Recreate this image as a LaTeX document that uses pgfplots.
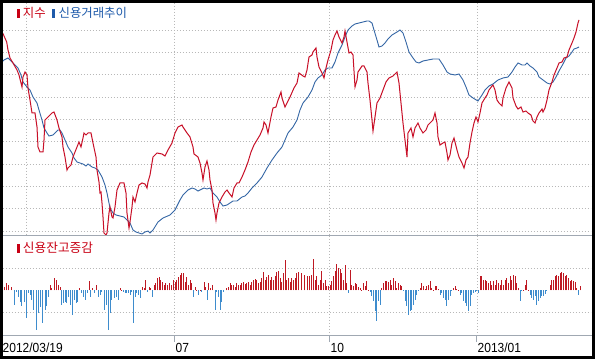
\documentclass[border=0pt]{standalone}
\usepackage{pgfplots}
\usepackage{pgfplotstable}
\pgfplotsset{compat=1.18}
\usepackage{fontspec}
\setmainfont{Liberation Sans}
\newfontfamily\kr{Noto Sans CJK KR}
\definecolor{linered}{RGB}{200,16,40}
\definecolor{lineblue}{RGB}{52,102,165}
\definecolor{barred}{RGB}{190,25,35}
\definecolor{barblue}{RGB}{62,140,205}
\definecolor{txtred}{RGB}{200,0,20}
\definecolor{txtblue}{RGB}{30,90,170}
\definecolor{sepgray}{RGB}{160,168,178}

\pgfplotstableread{
x y
2.7 33
6.7 42
8 50
10 58
13 63
17 70
19 75
21 83
22 87
23 77
25 72
27 75
28 88
30 100
32 113
35 113
37 127
38 147
40 152
43 152
44 140
45 120
48 117
52 113
54 112
57 120
59 128
62 137
63 147
65 157
67 170
68 168
71 165
73 157
75 152
77 147
79 142
81 147
83 138
84 133
86 135
88 133
91 133
93 143
96 157
97 170
99 182
100 193
101 192
102 203
103 217
104 233
106 235
107 233
109 213
110 207
112 217
113 218
115 207
117 190
120 183
124 183
126 193
127 213
129 228
130 222
132 207
133 197
135 202
137 193
139 185
142 183
145 184
147 188
148 182
150 175
153 157
157 153
162 154
165 156
168 150
172 143
175 133
178 127
182 125
183 127
187 133
190 137
193 147
194 154
198 157
200 163
202 173
203 180
205 167
207 161
209 170
210 180
212 190
213 203
215 213
216 220
217 213
219 203
222 197
225 192
227 190
229 193
232 197
234 188
237 183
239 183
242 177
245 170
248 162
251 152
254 145
257 140
260 135
263 128
264 122
266 125
268 133
271 117
273 108
276 107
278 100
281 92
282 98
285 107
287 103
290 97
294 88
297 83
299 73
303 76
305 77
307 70
309 57
312 55
313 52
316 48
317 57
319 67
322 73
324 78
326 68
328 60
331 50
333 40
335 35
337 31
339 37
342 43
344 37
345 31
347 42
349 53
351 52
353 55
355 87
357 80
358 72
362 66
364 66
367 72
368 83
370 100
372 120
373 131
375 117
377 103
380 98
383 90
386 82
389 78
393 76
397 72
399 83
401 103
403 123
405 140
407 157
408 133
411 128
413 137
415 128
418 123
420 128
423 133
426 130
428 125
431 122
433 120
435 113
437 123
438 137
440 145
443 143
445 142
447 153
448 160
450 155
452 143
454 138
457 150
459 157
462 163
464 168
466 160
468 157
470 143
472 132
474 123
476 117
478 122
480 113
482 103
485 98
487 95
489 90
492 86
493 85
495 90
497 100
499 103
502 106
503 98
506 88
509 82
512 88
513 98
516 106
518 109
521 107
523 112
526 111
528 113
531 115
533 121
535 123
537 117
539 113
542 109
543 112
545 108
547 100
549 90
552 82
554 75
557 68
559 63
562 62
564 58
567 57
569 50
572 43
574 38
576 32
578 23
579 20
}\indexdata

\pgfplotstableread{
x y
2 62
4 60
8 58
12 62
15 65
18 68
21 75
23 82
27 87
30 90
33 97
37 103
39 110
42 120
44 128
47 133
49 136
53 135
55 133
58 130
60 130
62 133
65 140
68 147
72 153
74 158
77 162
80 163
83 164
86 166
88 164
92 167
95 168
98 170
102 177
105 185
107 193
110 208
113 213
116 215
120 216
124 217
127 220
130 223
133 230
136 232
139 233
142 234
145 232
148 231
150 233
153 230
158 222
163 218
170 215
175 210
180 200
183 195
188 190
192 188
195 189
198 191
202 189
204 188
207 189
210 188
213 193
217 197
220 202
223 206
227 205
230 203
233 201
237 201
242 197
245 196
248 193
252 188
257 183
262 177
267 168
272 160
277 153
282 147
285 140
288 133
293 127
297 120
300 110
303 103
308 97
312 90
315 82
318 78
322 75
325 70
328 68
332 68
335 62
338 53
342 45
345 37
348 30
352 26
355 24
359 23
363 22
367 21
369 21
372 23
374 30
377 40
379 47
382 46
385 43
388 39
392 35
397 32
400 30
403 33
406 42
409 52
413 58
416 62
419 63
423 61
428 60
433 59
439 59
443 65
447 72
450 74
455 75
459 74
463 80
466 87
469 95
473 98
478 101
482 95
485 90
489 86
493 84
498 80
503 78
508 77
512 72
515 67
518 63
522 65
525 65
527 63
530 66
533 68
537 72
539 77
543 80
547 83
550 84
553 82
556 77
559 71
563 64
566 58
569 56
572 52
574 49
577 48
579 47
}\creditdata

\pgfplotstableread{
x v
12 9
18 21
25 16
33 9
42 -44
48 -4
55 -19
60 -34
65 -47
72 -34
78 -84
85 -9
90 -14
95 -29
100 -59
108 -119
115 -69
120 -49
128 -99
135 -59
140 -47
145 -19
150 16
155 6
163 36
170 31
175 16
180 11
185 -44
190 -39
196 -34
200 -39
205 -19
210 -44
217 -74
222 -29
228 -39
232 -34
238 6
245 -9
250 -19
255 -29
262 -9
268 29
272 -19
278 6
283 -9
290 16
295 -19
300 -14
305 -4
312 -59
318 -44
325 -119
330 -69
335 -29
342 -24
348 -19
355 -29
360 6
365 1
370 -4
375 -9
380 -7
385 -9
390 -14
395 -4
400 -99
405 -19
410 -9
415 -14
422 -24
427 11
432 6
437 31
442 -4
447 11
452 6
458 -19
463 16
467 21
472 36
477 41
482 31
487 26
492 16
497 21
503 16
508 21
513 16
520 31
525 26
530 31
535 41
540 46
545 53
550 51
555 26
560 41
565 16
570 31
575 21
580 -19
585 11
590 1
595 -14
600 1
605 -4
612 24
617 11
622 -29
625 21
630 6
637 16
645 -59
650 -4
655 -19
660 -59
665 -34
670 -4
680 6
685 11
690 21
695 16
700 16
705 11
710 23
715 16
720 16
725 23
730 26
735 19
740 23
745 26
750 16
755 26
760 31
765 33
770 31
775 21
780 26
785 36
790 56
795 31
800 41
805 46
810 31
815 41
820 31
825 43
830 56
835 59
840 36
845 26
850 51
855 91
860 31
865 36
870 26
875 36
880 31
885 36
890 51
895 56
905 52
912 47
922 44
928 42
935 47
940 94
945 32
950 42
955 17
960 32
965 57
970 22
975 32
980 14
985 12
990 17
995 27
1000 42
1005 57
1010 80
1015 67
1020 64
1025 52
1030 32
1035 77
1040 22
1045 -8
1050 60
1055 17
1060 12
1065 22
1070 20
1075 10
1080 7
1085 2
1090 22
1095 12
1100 27
1105 2
1110 -6
1115 -18
1120 -33
1125 -63
1130 -93
1135 -33
1140 -43
1145 7
1150 22
1155 27
1160 27
1165 24
1170 32
1175 17
1180 37
1185 27
1190 7
1195 22
1200 17
1205 12
1210 -3
1215 -33
1220 -48
1225 -73
1230 -63
1235 -58
1240 -43
1245 -28
1250 -13
1255 -3
1260 7
1265 22
1270 12
1275 4
1280 12
1285 17
1290 27
1295 7
1300 2
1305 12
1310 12
1315 4
1320 -13
1325 -8
1330 -23
1335 -28
1340 -48
1345 -28
1350 -18
1355 -3
1360 7
1365 12
1370 4
1375 2
1380 -13
1385 -8
1390 -33
1395 -38
1400 -48
1405 -63
1410 -48
1415 -13
1420 -8
1425 -6
1430 -3
1435 -8
1440 42
1445 44
1450 32
1455 32
1460 27
1465 22
1470 27
1475 17
1480 27
1485 17
1490 32
1495 22
1500 17
1505 32
1510 17
1515 32
1520 37
1525 22
1530 42
1535 32
1540 47
1545 42
1550 22
1555 7
1560 -33
1565 -3
1570 2
1575 17
1580 30
1585 2
1590 -13
1595 -23
1600 -28
1605 -18
1610 -43
1615 -33
1620 -23
1625 -18
1630 -16
1635 -10
1640 -3
1645 0
1650 17
1655 32
1660 32
1665 42
1670 47
1675 42
1680 52
1685 54
1690 52
1695 42
1700 47
1705 37
1710 27
1715 32
1720 27
1725 24
1730 7
1735 -13
1740 14
}\bardata

\begin{document}
\begin{tikzpicture}[x=1pt,y=1pt]
\useasboundingbox (0,0) rectangle (598,361);
\fill[white] (0,0) rectangle (598,361);
% top panel
\begin{axis}[at={(3pt,125pt)}, anchor=south west, scale only axis,
  width=588pt, height=233pt,
  xmin=3, xmax=591, ymin=3, ymax=236, y dir=reverse,
  axis line style={draw=none}, major tick length=0pt,
  xtick={26,174,329,477},
  ytick={30,52.33,74.67,97,119.33,141.67,164,186.33,208.67,231},
  xticklabels={}, yticklabels={},
  grid=major, major grid style={black!28, line width=0.6pt, dash pattern=on 0.8pt off 2.2pt}]
\addplot[lineblue, line width=0.9pt, mark=none] table[x=x,y=y]{\creditdata};
\addplot[linered, line width=1pt, mark=none] table[x=x,y=y]{\indexdata};
\end{axis}
% bottom panel
\begin{axis}[at={(3pt,25pt)}, anchor=south west, scale only axis,
  width=588pt, height=100pt,
  xmin=9, xmax=1773, ymin=-136.5, ymax=163.5,
  axis line style={draw=none}, major tick length=0pt,
  xtick={522,987,1431}, ytick={-66,66},
  xticklabels={}, yticklabels={},
  grid=major, major grid style={black!28, line width=0.6pt, dash pattern=on 0.8pt off 2.2pt}]
\addplot[ycomb, barred, line width=0.9pt, mark=none, restrict y to domain=0:1000] table[x=x,y=v]{\bardata};
\addplot[ycomb, barblue, line width=0.9pt, mark=none, restrict y to domain=-1000:-0.5] table[x=x,y=v]{\bardata};
\end{axis}
% separators
\draw[sepgray, line width=1pt] (3,125) -- (592,125);
\draw[sepgray, line width=1pt] (3,25) -- (592,25);
\foreach \t in {174,329,476} \draw[sepgray, line width=0.8pt] (\t,25) -- (\t,18.5);
% legends
\node[anchor=west, inner sep=0pt] at (16.5,348) {\textcolor{txtred}{\rule{2.8pt}{8.5pt}}\hspace{3.5pt}{\kr\fontsize{12.4}{13}\selectfont\textcolor{txtred}{지수}}\hspace{6.5pt}\textcolor{txtblue}{\rule{2.8pt}{8.5pt}}\hspace{3.5pt}{\kr\fontsize{12.4}{13}\selectfont\textcolor{txtblue}{신용거래추이}}};
\node[anchor=west, inner sep=0pt] at (16.5,113) {\textcolor{txtred}{\rule{2.8pt}{8.5pt}}\hspace{3.5pt}{\kr\fontsize{12.7}{13}\selectfont\textcolor{txtred}{신용잔고증감}}};
% x labels
\node[anchor=west, inner sep=0pt] at (2.5,13) {\scalebox{1}[1.1]{\fontsize{12}{13}\selectfont 2012/03/19}};
\node[anchor=west, inner sep=0pt] at (175.5,13) {\scalebox{1}[1.1]{\fontsize{12}{13}\selectfont 07}};
\node[anchor=west, inner sep=0pt] at (330.5,13) {\scalebox{1}[1.1]{\fontsize{12}{13}\selectfont 10}};
\node[anchor=west, inner sep=0pt] at (477.5,13) {\scalebox{1}[1.1]{\fontsize{12}{13}\selectfont 2013/01}};
% frame
\draw[black, line width=3pt] (1.5,3.5) rectangle (593.5,359.5);
\end{tikzpicture}
\end{document}
